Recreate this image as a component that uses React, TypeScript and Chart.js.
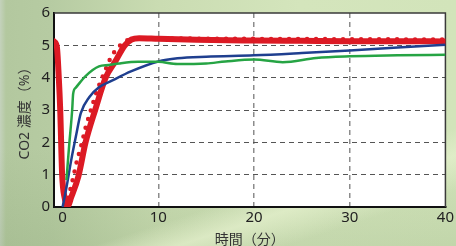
import { useEffect, useRef } from "react";
import { Chart, registerables } from "chart.js";

Chart.register(...registerables);

// ---- data ----
const xTicks = [0, 10, 20, 30, 40];
const yTicks = [0, 1, 2, 3, 4, 5, 6];

const redSolidX = [-0.9, -0.6, -0.4, -0.25, -0.05, 0.2, 0.55, 0.9, 1.65, 2.4, 3.4, 4.5, 5.5, 6.5, 7.2, 8, 10, 14, 20, 25, 30, 35, 40];
const redSolidY = [5.12, 4.95, 4.0, 3.0, 1.0, 0.3, 0.05, 0.3, 0.95, 2.0, 3.0, 4.0, 4.5, 5.0, 5.18, 5.22, 5.2, 5.17, 5.15, 5.14, 5.13, 5.13, 5.12];

const redDotX = [0.35, 0.6, 1.06, 1.47, 1.99, 2.44, 2.8, 3.6, 4.0, 4.7, 5.1, 5.7, 6.4, 7.2, 8.5, 12, 20, 30, 40];
const redDotY = [0.02, 0.3, 0.85, 1.39, 1.95, 2.5, 2.85, 3.6, 3.9, 4.4, 4.66, 4.9, 5.1, 5.2, 5.22, 5.21, 5.2, 5.19, 5.18];

const blueX = [0, 0.4, 0.9, 1.4, 1.9, 2.8, 3.8, 5.1, 7.2, 10, 12, 15, 20, 25, 30, 35, 40];
const blueY = [0, 0.6, 1.45, 2.2, 2.9, 3.4, 3.7, 3.9, 4.2, 4.5, 4.6, 4.65, 4.69, 4.76, 4.84, 4.93, 5.02];

const greenX = [0.4, 0.7, 1.0, 1.1, 1.4, 2.4, 3.8, 4.8, 5.9, 7.9, 10, 12, 15, 17, 20, 23, 26.5, 30, 35, 40];
const greenY = [0.83, 1.96, 3.0, 3.5, 3.7, 4.05, 4.35, 4.39, 4.44, 4.49, 4.49, 4.42, 4.44, 4.5, 4.56, 4.48, 4.61, 4.66, 4.69, 4.71];

const xTitle = "時間（分）";
const yTitle = "CO2 濃度（%）";

const FONT = '"Noto Sans", "Noto Sans CJK JP", sans-serif';

const pts = (xs: number[], ys: number[]) => xs.map((x, i) => ({ x, y: ys[i] }));

const framePlugin = {
  id: "frame",
  beforeDraw(chart: any) {
    const { ctx, chartArea: a } = chart;
    ctx.save();
    ctx.fillStyle = "#ffffff";
    ctx.fillRect(a.left, a.top, a.right - a.left, a.bottom - a.top);
    ctx.restore();
  },
  beforeDatasetsDraw(chart: any) {
    const { ctx, chartArea: a } = chart;
    ctx.save();
    ctx.strokeStyle = "#3a3a3a";
    ctx.lineWidth = 1.5;
    ctx.beginPath();
    ctx.moveTo(a.left, a.top);
    ctx.lineTo(a.right, a.top);
    ctx.lineTo(a.right, a.bottom);
    ctx.stroke();
    ctx.restore();
  },
};

export default function App() {
  const ref = useRef<HTMLCanvasElement>(null);

  useEffect(() => {
    if (!ref.current) return;
    const chart = new Chart(ref.current, {
      type: "line",
      data: {
        datasets: [
          {
            data: pts(greenX, greenY),
            borderColor: "#26a444",
            borderWidth: 2.5,
            pointRadius: 0,
            cubicInterpolationMode: "monotone",
          },
          {
            data: pts(blueX, blueY),
            borderColor: "#1f3f8f",
            borderWidth: 2.5,
            pointRadius: 0,
            cubicInterpolationMode: "monotone",
          },
          {
            data: pts(redDotX, redDotY),
            borderColor: "#dc1a24",
            borderWidth: 4.5,
            borderDash: [0, 9],
            borderCapStyle: "round",
            pointRadius: 0,
            cubicInterpolationMode: "monotone",
          },
          {
            data: pts(redSolidX, redSolidY),
            borderColor: "#dc1a24",
            borderWidth: 6,
            borderCapStyle: "round",
            borderJoinStyle: "round",
            pointRadius: 0,
            cubicInterpolationMode: "monotone",
          },
        ],
      },
      options: {
        animation: false,
        responsive: false,
        maintainAspectRatio: false,
        devicePixelRatio: 1,
        layout: { padding: { left: 0, right: 5, top: 11, bottom: 0 } },
        plugins: { legend: { display: false }, tooltip: { enabled: false } },
        scales: {
          x: {
            type: "linear",
            min: -0.9,
            max: 40,
            afterFit: (s: any) => {
              s.height = 39;
            },
            afterBuildTicks: (s: any) => {
              s.ticks = xTicks.map((v) => ({ value: v }));
            },
            ticks: {
              color: "#222",
              font: { family: FONT, size: 15 },
              padding: 2,
              maxRotation: 0,
            },
            grid: {
              drawTicks: false,
              lineWidth: 1.5,
              color: (c: any) =>
                c.tick && (c.tick.value === 0 || c.tick.value === 40) ? "rgba(0,0,0,0)" : "#8c8c8c",
            },
            border: { display: true, color: "#111", width: 2, dash: [5, 4] },
            title: {
              display: true,
              text: xTitle,
              color: "#333",
              font: { family: FONT, size: 14, lineHeight: 1 },
              padding: { top: 0, bottom: -1 },
            },
          },
          y: {
            min: 0,
            max: 6,
            afterFit: (s: any) => {
              s.width = 54;
            },
            afterBuildTicks: (s: any) => {
              s.ticks = yTicks.map((v) => ({ value: v }));
            },
            ticks: {
              color: "#222",
              font: { family: FONT, size: 15 },
              padding: 4,
            },
            grid: {
              drawTicks: false,
              lineWidth: 1,
              color: (c: any) =>
                c.tick && (c.tick.value === 0 || c.tick.value === 6) ? "rgba(0,0,0,0)" : "#555",
            },
            border: { display: true, color: "#111", width: 2, dash: [5, 4] },
            title: {
              display: true,
              text: yTitle,
              color: "#333",
              font: { family: FONT, size: 14, lineHeight: 1.2 },
              padding: { top: 17, bottom: 0 },
            },
          },
        },
      },
      plugins: [framePlugin],
    } as any);
    return () => chart.destroy();
  }, []);

  return (
    <div
      style={{
        position: "relative",
        width: 456,
        height: 246,
        overflow: "hidden",
        background:
          "linear-gradient(162deg, rgba(255,255,255,0) 70%, rgba(228,240,204,0.75) 77%, rgba(255,255,255,0) 86%)," +
          "linear-gradient(to bottom, rgba(255,255,255,0) 60%, rgba(120,150,100,0.18) 100%)," +
          "linear-gradient(to right, #c4d2bc 0px, #b3c89f 6px, #b6cba2 50px, #cadcb2 160px, #d4e5bc 300px, #d2e4ba 100%)",
      }}
    >
      <style>{"body{margin:0}"}</style>
      <canvas ref={ref} width={456} height={246} style={{ display: "block" }} />
    </div>
  );
}
